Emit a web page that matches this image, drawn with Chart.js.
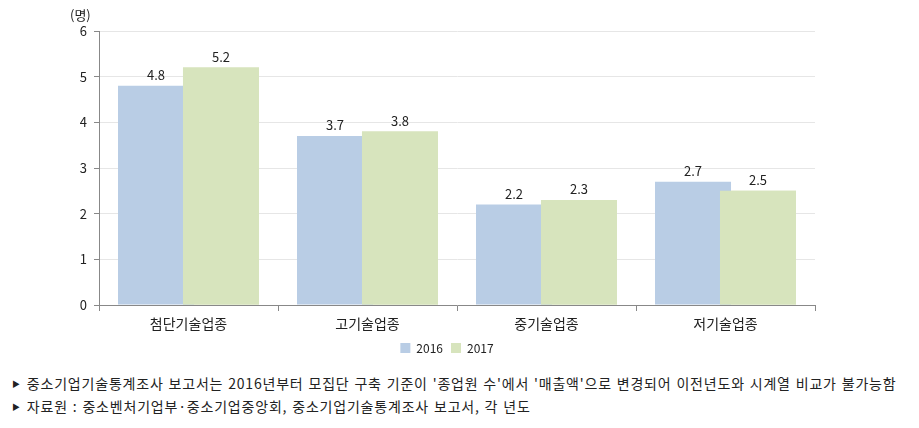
<!DOCTYPE html>
<html>
<head>
<meta charset="utf-8">
<script src="https://cdn.jsdelivr.net/npm/chart.js@4"></script>
<style>
  body { margin: 0; background: #fff; font-family: "Noto Sans CJK KR", sans-serif; }
  #wrap { position: relative; width: 919px; height: 364px; }
  .note { position: absolute; left: 12px; font-size: 14px; color: #222; white-space: nowrap; letter-spacing: 0.8px; word-spacing: 1px; }
  .note span { font-size: 8px; margin-right: 6px; vertical-align: 2px; }
</style>
</head>
<body>
<div id="wrap"><canvas id="chart" width="919" height="364"></canvas></div>
<div class="note" style="top:373px"><span>▶</span>중소기업기술통계조사 보고서는 2016년부터 모집단 구축 기준이 '종업원 수'에서 '매출액'으로 변경되어 이전년도와 시계열 비교가 불가능함</div>
<div class="note" style="top:396px"><span>▶</span>자료원 : 중소벤처기업부·중소기업중앙회, 중소기업기술통계조사 보고서, 각 년도</div>
<script>
// categories and values
const categories = ['첨단기술업종', '고기술업종', '중기술업종', '저기술업종'];
const values2016 = [4.8, 3.7, 2.2, 2.7];
const values2017 = [5.2, 3.8, 2.3, 2.5];
const seriesNames = ['2016', '2017'];
const yTicks = [0, 1, 2, 3, 4, 5, 6];

const fontFamily = '"Noto Sans CJK KR", sans-serif';

// bars overlap like the original: put the 2017 bars back on top,
// then write the values and the unit label
const labelPlugin = {
  id: 'barLabels',
  afterDatasetsDraw(chart) {
    const ctx = chart.ctx;
    chart.getDatasetMeta(1).controller.draw();
    ctx.save();
    ctx.font = '13px ' + fontFamily;
    ctx.fillStyle = '#222';
    ctx.textAlign = 'center';
    ctx.textBaseline = 'bottom';
    chart.data.datasets.forEach((ds, i) => {
      chart.getDatasetMeta(i).data.forEach((bar, j) => {
        ctx.fillText(ds.data[j].toFixed(1), bar.x, bar.y - 4);
      });
    });
    ctx.textAlign = 'left';
    ctx.textBaseline = 'middle';
    ctx.fillText('(명)', 70, 15);
    ctx.restore();
  }
};

new Chart(document.getElementById('chart'), {
  type: 'bar',
  data: {
    labels: categories,
    datasets: [
      { label: seriesNames[0], data: values2016, backgroundColor: '#b9cde5' },
      { label: seriesNames[1], data: values2017, backgroundColor: '#d7e4bd' }
    ]
  },
  options: {
    responsive: false,
    animation: false,
    categoryPercentage: 0.726,
    barPercentage: 1.17,
    layout: { padding: { left: 0, right: 25, top: 31, bottom: 0 } },
    plugins: {
      tooltip: { enabled: false },
      legend: {
        position: 'bottom',
        labels: {
          boxWidth: 10, boxHeight: 10, padding: 8,
          color: '#222', font: { size: 12, family: fontFamily }
        }
      }
    },
    scales: {
      x: {
        grid: { drawOnChartArea: false, tickLength: 6, tickColor: '#888', offset: true },
        border: { color: '#888' },
        ticks: { color: '#222', font: { size: 14, family: fontFamily }, padding: 4 },
        afterFit: s => { s.height = 29; }
      },
      y: {
        min: 0, max: 6,
        afterBuildTicks: s => { s.ticks = yTicks.map(v => ({ value: v })); },
        grid: { color: '#e6e6e6', tickLength: 5, tickColor: '#888' },
        border: { color: '#888' },
        ticks: { color: '#222', font: { size: 13, family: fontFamily }, padding: 7 },
        afterFit: s => { s.width = 99; }
      },
      // empty right-hand spacer so the legend centres where the original does
      spacer: {
        position: 'right',
        min: 0, max: 6,
        grid: { display: false },
        border: { display: false },
        ticks: { display: false },
        afterFit: s => { s.width = 79; }
      }
    }
  },
  plugins: [labelPlugin]
});
</script>
</body>
</html>
